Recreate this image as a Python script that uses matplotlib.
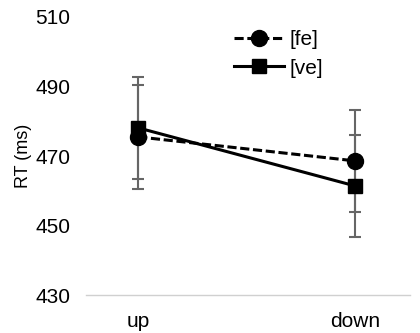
import matplotlib
matplotlib.use("Agg")
import matplotlib.pyplot as plt

categories = ["up", "down"]
fe_values = [475.5, 468.6]
fe_err = [15.0, 14.7]
ve_values = [478.1, 461.4]
ve_err = [14.7, 14.6]
yticks = [430, 450, 470, 490, 510]

plt.rcParams['font.family'] = ['Liberation Sans', 'DejaVu Sans']

fig = plt.figure(figsize=(4.2, 3.33), dpi=100)
ax = fig.add_axes([0.205, 0.114, 0.771, 0.835])
x = list(range(len(categories)))

ax.errorbar(x, fe_values, yerr=fe_err, fmt='none', ecolor='#666666',
            elinewidth=1.5, capsize=4, capthick=1.5, zorder=2)
ax.errorbar(x, ve_values, yerr=ve_err, fmt='none', ecolor='#666666',
            elinewidth=1.5, capsize=4, capthick=1.5, zorder=2)
ax.plot(x, fe_values, color='black', linestyle=(0, (3, 1.2)), linewidth=2.2,
        marker='o', markersize=11.5, label='[fe]', zorder=3)
ax.plot(x, ve_values, color='black', linestyle='-', linewidth=2.2,
        marker='s', markersize=9.5, label='[ve]', zorder=3)

ax.set_xlim(-0.24, 1.253)
ax.set_ylim(430, 510)
ax.set_yticks(yticks)
ax.set_xticks(x)
ax.set_xticklabels(categories)
ax.tick_params(axis='both', length=0, labelsize=15)
ax.tick_params(axis='y', pad=11.5)
ax.tick_params(axis='x', pad=12)
for s in ['top', 'right', 'left']:
    ax.spines[s].set_visible(False)
ax.spines['bottom'].set_color('#d0d0d0')
ax.spines['bottom'].set_linewidth(1)
ax.set_ylabel('RT (ms)', fontsize=13, labelpad=2)

leg = ax.legend(loc='upper left', bbox_to_anchor=(0.40, 1.02), frameon=False,
                fontsize=15, handlelength=2.4, handletextpad=0.25, labelspacing=0.45)

fig.savefig('out.png', dpi=100)
